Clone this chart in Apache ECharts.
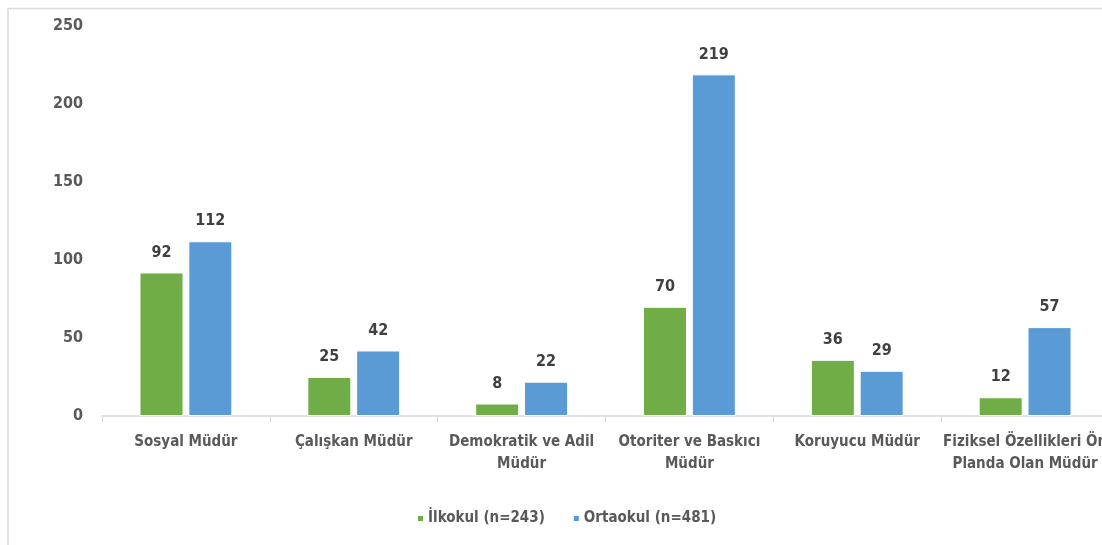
<!DOCTYPE html>
<html>
<head>
<meta charset="utf-8">
<script src="https://cdn.jsdelivr.net/npm/echarts@6/dist/echarts.min.js"></script>
<style>
html,body{margin:0;padding:0;background:#fff;}
#chart{width:1102px;height:545px;}
</style>
</head>
<body>
<div id="chart"></div>
<script>
const categories = ["Sosyal Müdür", "Çalışkan Müdür", "Demokratik ve Adil\nMüdür", "Otoriter ve Baskıcı\nMüdür", "Koruyucu Müdür", "Fiziksel Özellikleri Ön\nPlanda Olan Müdür"];
const ilkokul = [92, 25, 8, 70, 36, 12];
const ortaokul = [112, 42, 22, 219, 29, 57];
const seriesNames = ["İlkokul (n=243)", "Ortaokul (n=481)"];
const yTicks = { min: 0, max: 250, interval: 50 };

const FONT = '"DejaVu Sans Condensed", "DejaVu Sans", sans-serif';
const FW = 'bold condensed';
const chart = echarts.init(document.getElementById('chart'), null, { renderer: 'canvas' });
const labelStyle = { show: true, position: 'top', distance: 12, color: '#404040', fontWeight: FW, fontSize: 16, fontFamily: FONT };
chart.setOption({
  animation: false,
  backgroundColor: '#ffffff',
  graphic: [
    { type: 'line', silent: true, shape: { x1: 8, y1: 8.5, x2: 1102, y2: 8.5 }, style: { stroke: '#d9d9d9', lineWidth: 1.5 } },
    { type: 'line', silent: true, shape: { x1: 8, y1: 8, x2: 8, y2: 545 }, style: { stroke: '#d9d9d9', lineWidth: 1.5 } }
  ],
  grid: { left: 102, width: 1007, top: 26, bottom: 129, containLabel: false, outerBoundsMode: 'none' },
  legend: {
    bottom: 14, left: 411,
    itemWidth: 7, itemHeight: 7, itemGap: 27, icon: 'rect',
    textStyle: { color: '#595959', fontWeight: FW, fontSize: 15, fontFamily: FONT, padding: [0, 0, 0, -1] },
    data: seriesNames
  },
  xAxis: {
    type: 'category', data: categories,
    axisLine: { lineStyle: { color: '#d9d9d9', width: 1.5 } },
    axisTick: { show: true, length: 6, lineStyle: { color: '#d9d9d9' } },
    axisLabel: { interval: 0, margin: 15, color: '#595959', fontWeight: FW, fontSize: 15, lineHeight: 22, fontFamily: FONT }
  },
  yAxis: {
    type: 'value', min: yTicks.min, max: yTicks.max, interval: yTicks.interval,
    splitLine: { show: false },
    axisLine: { show: false }, axisTick: { show: false },
    axisLabel: { margin: 19, color: '#595959', fontWeight: FW, fontSize: 16, fontFamily: FONT }
  },
  series: [
    { name: seriesNames[0], type: 'bar', data: ilkokul, barWidth: 44, barGap: '11%',
      itemStyle: { color: '#70AD47', borderColor: '#ffffff', borderWidth: 1 }, label: labelStyle },
    { name: seriesNames[1], type: 'bar', data: ortaokul, barWidth: 44,
      itemStyle: { color: '#5B9BD5', borderColor: '#ffffff', borderWidth: 1 }, label: labelStyle }
  ]
});
</script>
</body>
</html>
